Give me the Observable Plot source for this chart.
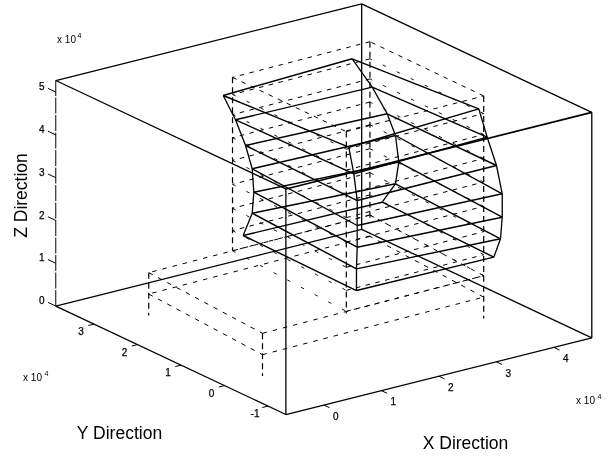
<!DOCTYPE html>
<html>
<head>
<meta charset="utf-8">
<script src="https://cdn.jsdelivr.net/npm/d3@7"></script>
<script src="https://cdn.jsdelivr.net/npm/@observablehq/plot@0.6"></script>
<style>html,body{margin:0;padding:0;background:#fff}svg{display:block;filter:blur(0.35px)}</style>
</head>
<body>
<div id="chart"></div>
<script>
// All lengths in units of 10^4.
const xTicks = [0, 1, 2, 3, 4];
const yTicks = [3, 2, 1, 0, -1];
const zTicks = [0, 1, 2, 3, 4, 5];
const xLimits = [-0.66, 4.66];
const yLimits = [-1.41, 3.88];
const zLimits = [0, 5.27];

// Deformed storeys (solid), top to bottom; four corner columns
const storeyZ = [5, 4.4, 3.8, 3.2, 2.6, 2, 1.4];
const cornerAX = [1.159, 1.332, 1.445, 1.578, 1.651, 1.746, 1.725];
const cornerAY = [2.435, 2.381, 2.300, 2.323, 2.382, 2.544, 2.724];
const cornerBX = [1.339, 1.374, 1.388, 1.404, 1.500, 1.590, 1.686];
const cornerBY = [-0.214, -0.283, -0.343, -0.321, -0.194, -0.059, 0.068];
const cornerCX = [3.740, 3.771, 3.813, 3.815, 3.870, 3.949, 4.048];
const cornerCY = [-0.027, -0.181, -0.339, -0.468, -0.395, -0.252, 0.034];
const cornerDX = [3.508, 3.670, 3.818, 4.008, 4.021, 4.081, 4.106];
const cornerDY = [2.575, 2.329, 2.180, 2.240, 2.182, 2.338, 2.676];

// Undeformed building (dashed)
const levelBackZ = [5.05, 4.65, 4.18, 3.64, 3.11, 2.55, 1.99, 1.47, 1.0];
const levelFrontZ = [5.20, 4.79, 4.30, 3.74, 3.19, 2.62, 2.03, 1.49, 1.0];
const towerA = [1.65, 2.87];
const towerB = [1.48, 0.03];
const towerC = [3.90, 0.07];
const towerD = [4.07, 2.91];

// Undeformed base (dashed)
const baseA = [0.17, 2.84];
const baseB = [0, 0];
const baseC = [3.90, 0.07];
const baseD = [4.07, 2.91];
const baseLevels = [1, 0.5];

// Axis multiplier and titles
const multiplierText = "x 10";
const multiplierPower = "4";
const yTitle = "Y Direction";
const xTitle = "X Direction";
const zTitle = "Z Direction";

// Projection of the 3-D view onto the page
const px = ([x, y]) => 262 + 57.5 * x - 43.5 * y;
const py = ([x, y, z]) => 375.6 - 14.4 * x - 20.5 * y - 42.8 * z;
const seg = (a, b) => ({x1: px(a), y1: py(a), x2: px(b), y2: py(b)});
const links = (data, o) => Plot.link(data, {x1: "x1", y1: "y1", x2: "x2", y2: "y2", stroke: "#000", ...o});

const [x0, x1] = xLimits, [y0, y1] = yLimits, [z0, z1] = zLimits;

const frame = [
  seg([x0, y0, z0], [x1, y0, z0]),
  seg([x0, y0, z0], [x0, y1, z0]),
  seg([x1, y1, z0], [x1, y0, z0]),
  seg([x1, y1, z0], [x0, y1, z0]),
  seg([x0, y0, z1], [x0, y1, z1]),
  seg([x1, y1, z1], [x1, y0, z1]),
  seg([x1, y1, z1], [x0, y1, z1]),
  seg([x0, y0, z0], [x0, y0, z1]),
  seg([x1, y1, z0], [x1, y1, z1]),
  seg([x1, y0, z0], [x1, y0, z1])
];
const frameHeavy = [seg([x0, y0, z1], [x1, y0, z1])];
const frameSide = [seg([x0, y1, z0], [x0, y1, z1])];

const xTickSegs = xTicks.map(t => seg([t, y0, z0], [t, y0 - 0.13, z0]));
const yTickSegs = yTicks.map(t => seg([x0, t, z0], [x0 - 0.1, t, z0]));
const zTickSegs = zTicks.map(t => seg([x0, y1, t], [x0, y1 + 0.18, t]));

const corner = (X, Y, i) => [X[i], Y[i], storeyZ[i]];
const storeySegs = storeyZ.flatMap((_, i) => {
  const a = corner(cornerAX, cornerAY, i), b = corner(cornerBX, cornerBY, i),
        c = corner(cornerCX, cornerCY, i), d = corner(cornerDX, cornerDY, i);
  return [seg(a, b), seg(b, c), seg(c, d), seg(d, a)];
});
const columnSegs = [[cornerAX, cornerAY], [cornerBX, cornerBY], [cornerCX, cornerCY], [cornerDX, cornerDY]]
  .flatMap(([X, Y]) => d3.pairs(storeyZ.map((_, i) => corner(X, Y, i))).map(([p, q]) => seg(p, q)));

const towerLong = levelBackZ.flatMap((zb, i) => {
  const zf = levelFrontZ[i];
  return [seg([...towerB, zf], [...towerC, zf]), seg([...towerD, zb], [...towerA, zb])];
});
const towerCross = levelBackZ.flatMap((zb, i) => {
  const zf = levelFrontZ[i];
  return [seg([...towerA, zb], [...towerB, zf]), seg([...towerC, zf], [...towerD, zb])];
});
const towerTopCross = towerCross.slice(0, 2);
const towerLowerCross = towerCross.slice(2);
const towerVerticals = [
  seg([...towerA, levelBackZ[0]], [...towerA, 1]),
  seg([...towerB, levelFrontZ[0]], [...towerB, 0.95]),
  seg([...towerC, levelFrontZ[0]], [...towerC, 1]),
  seg([...towerD, levelBackZ[0]], [...towerD, 0.9])
];
const baseSegs = baseLevels.flatMap(z => {
  const a = [...baseA, z], b = [...baseB, z], c = [...baseC, z], d = [...baseD, z];
  return [seg(a, b), seg(b, c), seg(c, d), seg(d, a)];
});
const baseStubs = [baseA, baseB, baseC].map(p => seg([...p, 1], [...p, 0]));

const font = "Liberation Sans";
const tickLabel = (values, fn, dx, dy) => Plot.text(values, {
  x: t => px(fn(t)), y: t => py(fn(t)), text: t => String(t), dx, dy,
  fontSize: 10, fontFamily: font, fill: "#000", stroke: "#000", strokeWidth: 0.25
});
const note = (data, fontSize, extra = {}) => Plot.text(data, {
  x: "x", y: "y", text: "t", fontSize, fontFamily: font, fill: "#000", ...extra
});

const chart = Plot.plot({
  width: 615, height: 456,
  marginTop: 0, marginRight: 0, marginBottom: 0, marginLeft: 0,
  x: {domain: [0, 615], range: [0, 615], axis: null},
  y: {domain: [0, 456], range: [0, 456], axis: null},
  style: {background: "#fff"},
  marks: [
    links(towerLong, {strokeWidth: 1, strokeDasharray: "4.5,5.5"}),
    links(towerTopCross, {strokeWidth: 1, strokeDasharray: "4.5,5.5"}),
    links(towerLowerCross, {strokeWidth: 0.9, strokeDasharray: "3.5,12"}),
    links(towerVerticals, {strokeWidth: 1.2, strokeDasharray: "6,4"}),
    links(baseSegs, {strokeWidth: 1, strokeDasharray: "4.5,6"}),
    links(baseStubs, {strokeWidth: 1.2, strokeDasharray: "6,4"}),
    links(frameSide, {strokeWidth: 1, strokeDasharray: "16,1.5"}),
    links(frame, {strokeWidth: 1.3}),
    links(frameHeavy, {strokeWidth: 1.7}),
    links(xTickSegs, {strokeWidth: 1}),
    links(yTickSegs, {strokeWidth: 1}),
    links(zTickSegs, {strokeWidth: 1}),
    links(storeySegs, {strokeWidth: 1.4}),
    links(columnSegs, {strokeWidth: 1.3}),
    tickLabel(xTicks, t => [t, y0, z0], 12, 11.5),
    tickLabel(yTicks, t => [x0, t, z0], -13, 8),
    tickLabel(zTicks, t => [x0, y1, t], -14, -5),
    note([{x: 66, y: 39, t: multiplierText}, {x: 32, y: 377, t: multiplierText}, {x: 585, y: 400, t: multiplierText}], 10),
    note([{x: 79, y: 35, t: multiplierPower}, {x: 46, y: 373, t: multiplierPower}, {x: 599, y: 396, t: multiplierPower}], 7),
    note([{x: 119, y: 433, t: yTitle}, {x: 465, y: 443, t: xTitle}], 17.5),
    note([{x: 21, y: 195, t: zTitle}], 17.5, {rotate: -90})
  ]
});
document.getElementById("chart").append(chart);
</script>
</body>
</html>
